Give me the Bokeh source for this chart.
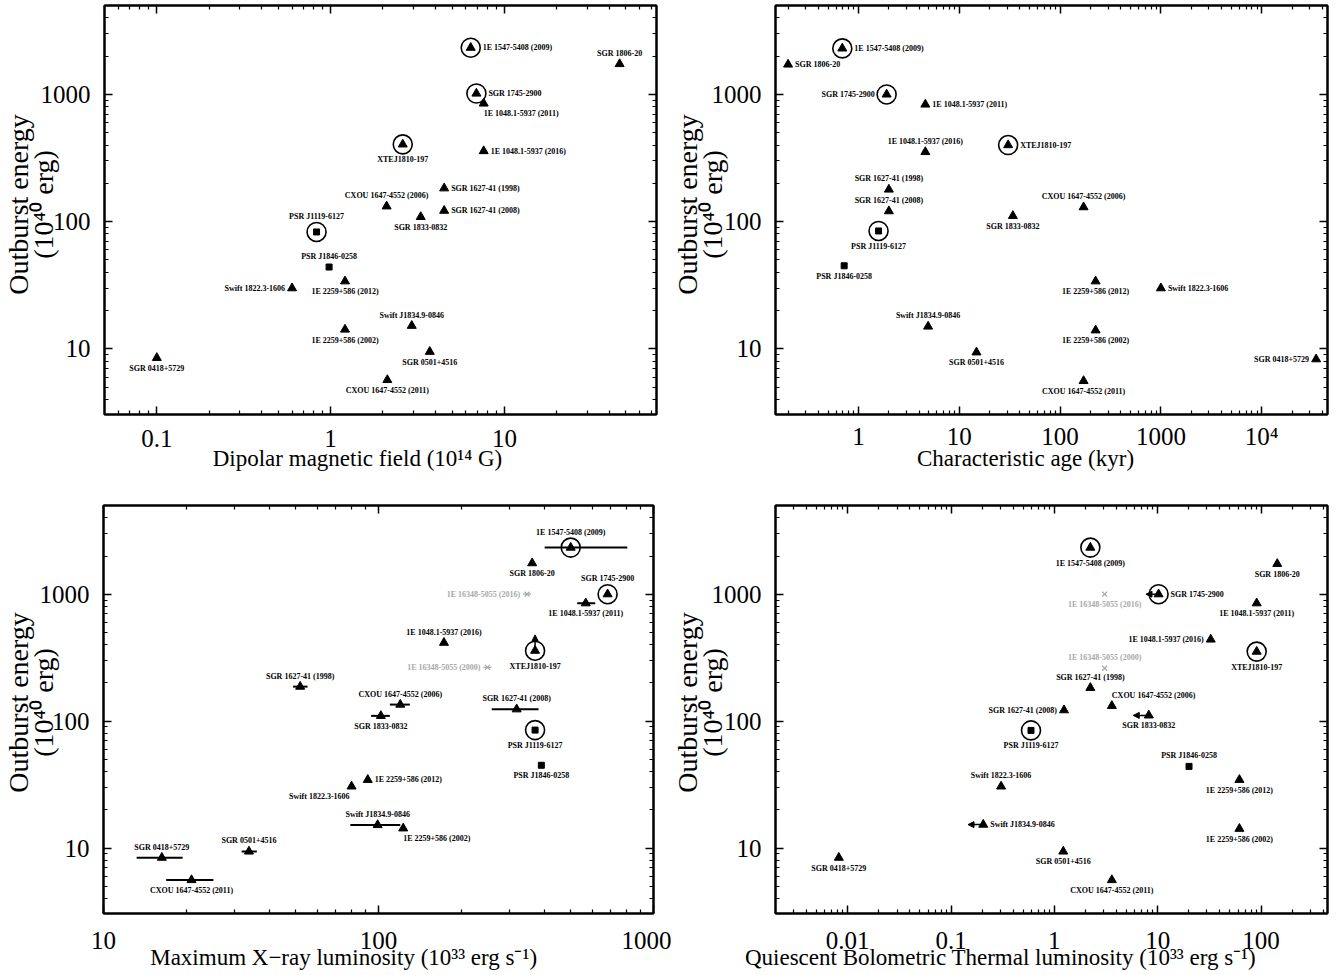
import math
from bokeh.plotting import figure
from bokeh.models import (LogAxis, FixedTicker, ColumnDataSource, Arrow, NormalHead,
                          Range1d, CustomJSTickFormatter, GridBox)
from bokeh.core.properties import value
from bokeh.embed import file_html
from bokeh.resources import INLINE

# ---------------- data ----------------
names = ["1E 1547-5408 (2009)", "SGR 1806-20", "SGR 1745-2900", "1E 1048.1-5937 (2011)",
         "XTEJ1810-197", "1E 1048.1-5937 (2016)", "SGR 1627-41 (1998)", "CXOU 1647-4552 (2006)",
         "SGR 1627-41 (2008)", "SGR 1833-0832", "PSR J1119-6127", "PSR J1846-0258",
         "1E 2259+586 (2012)", "Swift 1822.3-1606", "Swift J1834.9-0846", "1E 2259+586 (2002)",
         "SGR 0418+5729", "SGR 0501+4516", "CXOU 1647-4552 (2011)"]
# t = triangle, s = square, c* = circled
kinds = ["ct", "t", "ct", "t", "ct", "t", "t", "t", "t", "t", "cs", "s", "t", "t", "t", "t", "t", "t", "t"]

# Panel 1: dipolar magnetic field (1e14 G)
bfield = [6.4, 46, 6.9, 7.6, 2.6, 7.6, 4.5, 2.1, 4.5, 3.3, 0.83, 0.98, 1.21, 0.6, 2.93, 1.21, 0.1, 3.72, 2.12]
energy_b = [2330, 1735, 1017, 849, 405, 359, 183, 132, 122, 109, 83, 44, 34, 30, 15.2, 14.2, 8.5, 9.5, 5.7]

# Panel 2: characteristic age (kyr)
age = [0.69, 0.2, 1.9, 4.6, 30.5, 4.6, 2.0, 171, 2.0, 34, 1.58, 0.72, 225, 1000, 4.9, 225, 34700, 14.8, 171]
energy_age = [2300, 1720, 1000, 834, 400, 353, 179, 130, 121, 111, 84.5, 45, 34, 30, 15, 14, 8.3, 9.4, 5.6]

# Panel 3: maximum X-ray luminosity (1e33 erg/s)
lx_max = [500, 362, 681, 567, 371, 173, 51.9, 120, 318, 102, 371, 391, 91.4, 79.8, 99.3, 123, 16.3, 33.8, 20.9]
lx_lo = [402, None, None, 528, None, None, 48.9, 110, 258, 94, None, None, None, None, 79, None, 13.2, 31.8, 16.9]
lx_hi = [803, None, None, 614, None, None, 55.2, 130, 382, 110, None, None, None, None, 120, None, 19.4, 36.1, 25.1]
energy_lx = [2330, 1757, 1000, 849, 359, 415, 187, 135, 124, 110, 85, 44.9, 34.5, 30.6, 15.2, 14.3, 8.4, 9.4, 5.6]
xtej_lower_limit_top = 478
grey_names = ["1E 16348-5055 (2016)", "1E 16348-5055 (2000)"]
grey_lx = [347, 249]
grey_e_lx = [1000, 265]

# Panel 4: quiescent bolometric thermal luminosity (1e33 erg/s)
lbol = [2.23, 143.6, 10.2, 90.8, 90.8, 32.6, 2.23, 3.6, 1.24, 8.2, 0.594, 20.1, 61.8, 0.305, 0.205, 61.8, 0.0082, 1.22, 3.6]
energy_lbol = [2330, 1735, 1000, 849, 353, 440, 183, 132, 122, 111, 84.5, 44, 34.5, 30.6, 15.3, 14.2, 8.4, 9.4, 5.6]
lbol_upper_names = ["SGR 1745-2900", "SGR 1833-0832", "Swift J1834.9-0846"]
lbol_upper_arrow_end = [7.7, 5.8, 0.146]
grey_lbol = [3.07, 3.07]
grey_e_lbol = [1000, 261]

y_title = ["Outburst energy", "(10\u2074\u2070 erg)"]
x_titles = ["Dipolar magnetic field (10\u00b9\u2074 G)",
            "Characteristic age (kyr)",
            "Maximum X\u2212ray luminosity  (10\u00b3\u00b3 erg s\u207b\u00b9)",
            "Quiescent Bolometric Thermal luminosity (10\u00b3\u00b3 erg s\u207b\u00b9)"]

# ---------------- label placement (styling) ----------------
place1 = ["r", "a", "r", "br", "b", "r", "r", "a", "r", "b", "a", "a", "b", "l", "a", "b", "b", "b", "b"]
place2 = ["r", "r", "l", "r", "r", "a", "a", "a", "a", "b", "b", "b", "b", "r", "a", "b", "l", "b", "b"]
place3 = ["a", "b", "a", "b", "b", "a", "a", "a", "a", "b", "b", "b", "r", "bl", "a", "br", "a", "a", "b"]
place4 = ["b", "b", "r", "b", "b", "l", "a", "ar", "l", "b", "b", "a", "b", "a", "r", "b", "b", "b", "b"]
grey_place3 = ["l", "l"]
grey_place4 = ["b", "a"]

SERIF = "Liberation Serif"
YR = (3.05, 5000)


def no_align(fig):
    if "frame_align" in fig.properties():
        fig.frame_align = False


def offsets(code, circled):
    r = 11 if circled else 6
    if code == "r":
        return (r + 1, 0, "left", "middle")
    if code == "l":
        return (-(r + 1), 0, "right", "middle")
    if code == "a":
        return (0, -r, "center", "bottom")
    if code == "b":
        return (0, r, "center", "top")
    if code == "br":
        return (0, r, "left", "top")
    if code == "bl":
        return (-2, r, "right", "top")
    if code == "ar":
        return (0, -r, "left", "bottom")
    return (0, 0, "center", "middle")


def log_ticks(lo, hi):
    majors, minors = [], []
    for e in range(-4, 6):
        for m in range(1, 10):
            v = float(f"{m}e{e}")
            if lo * 0.9999 <= v <= hi * 1.0001:
                (majors if m == 1 else minors).append(v)
    return majors, minors


fmt_code = """
if (Math.abs(tick - 10000) < 1e-6) { return '10\\u2074'; }
return String(parseFloat(tick.toPrecision(6)));
"""
blank_code = "return '';"


def style_axis(ax, show_labels):
    ax.axis_line_width = 2
    ax.axis_line_color = "black"
    ax.major_tick_in = 8
    ax.major_tick_out = 0
    ax.minor_tick_in = 4
    ax.minor_tick_out = 0
    ax.major_tick_line_width = 1.5
    ax.minor_tick_line_width = 1.2
    ax.major_tick_line_color = "black"
    ax.minor_tick_line_color = "black"
    ax.major_label_text_font = SERIF
    ax.major_label_text_color = "black"
    if not show_labels:
        ax.formatter = CustomJSTickFormatter(code=blank_code)
        ax.major_label_text_font_size = "2px"
        ax.major_label_text_color = None
        ax.major_label_standoff = 0


def make_panel(xr, xs, ys, place, width, height, borders, xstand,
               xerr=None, grey=None, arrows=None):
    bl, br, bt, bb = borders
    p = figure(width=width, height=height, x_axis_type="log", y_axis_type="log",
               x_range=Range1d(*xr), y_range=Range1d(*YR),
               output_backend="svg", toolbar_location=None,
               min_border_left=bl, min_border_right=br, min_border_top=bt, min_border_bottom=bb)
    no_align(p)
    p.grid.visible = False
    p.outline_line_color = "black"
    p.outline_line_width = 2
    p.background_fill_color = "white"
    p.border_fill_color = "white"

    xmaj, xmin = log_ticks(*xr)
    ymaj, ymin = log_ticks(*YR)

    p.xaxis.ticker = FixedTicker(ticks=xmaj, minor_ticks=xmin)
    p.yaxis.ticker = FixedTicker(ticks=ymaj, minor_ticks=ymin)
    p.xaxis.formatter = CustomJSTickFormatter(code=fmt_code)
    p.yaxis.formatter = CustomJSTickFormatter(code=fmt_code)
    for ax in p.xaxis + p.yaxis:
        style_axis(ax, True)
    p.xaxis.major_label_text_font_size = "25px"
    p.yaxis.major_label_text_font_size = "25px"
    p.xaxis.major_label_standoff = xstand
    p.yaxis.major_label_standoff = 14

    top = LogAxis(ticker=FixedTicker(ticks=xmaj, minor_ticks=xmin))
    style_axis(top, False)
    p.add_layout(top, "above")
    right = LogAxis(ticker=FixedTicker(ticks=ymaj, minor_ticks=ymin))
    style_axis(right, False)
    p.add_layout(right, "right")

    # error bars
    if xerr is not None:
        lo, hi = xerr
        idx = [i for i in range(len(xs)) if lo[i] is not None]
        p.segment(x0=[lo[i] for i in idx], x1=[hi[i] for i in idx],
                  y0=[ys[i] for i in idx], y1=[ys[i] for i in idx],
                  line_color="black", line_width=2)

    # arrows (limits)
    if arrows is not None:
        ax_, ay_, ex_, ey_ = arrows
        src = ColumnDataSource(dict(x0=ax_, y0=ay_, x1=ex_, y1=ey_))
        p.add_layout(Arrow(end=NormalHead(size=6, fill_color="black", line_color="black"),
                           x_start="x0", y_start="y0", x_end="x1", y_end="y1",
                           line_width=1.5, line_color="black", source=src))

    tri = [i for i, k in enumerate(kinds) if k.endswith("t")]
    sq = [i for i, k in enumerate(kinds) if k.endswith("s")]
    circ = [i for i, k in enumerate(kinds) if k.startswith("c")]
    p.scatter([xs[i] for i in tri], [ys[i] for i in tri], marker="triangle", size=9,
              fill_color="black", line_color="black")
    p.scatter([xs[i] for i in sq], [ys[i] for i in sq], marker="square", size=6,
              fill_color="black", line_color="black")
    p.scatter([xs[i] for i in circ], [ys[i] for i in circ], marker="circle", size=19,
              fill_color=None, line_color="black", line_width=1.6)

    lab = dict(x=[], y=[], t=[], xo=[], yo=[], al=[], bl=[], c=[])
    for i, nm in enumerate(names):
        xo, yo, al, bs = offsets(place[i], kinds[i].startswith("c"))
        lab["x"].append(xs[i]); lab["y"].append(ys[i]); lab["t"].append(nm)
        lab["xo"].append(xo); lab["yo"].append(yo); lab["al"].append(al); lab["bl"].append(bs)
        lab["c"].append("black")

    if grey is not None:
        gx, gy, gplace, dash = grey
        p.scatter(gx, gy, marker="x", size=7, line_color="#a8a8a8", line_width=1.2)
        if dash:
            p.scatter(gx, gy, marker="dash", size=8, line_color="#a8a8a8", line_width=1.2)
        for i, nm in enumerate(grey_names):
            xo, yo, al, bs = offsets(gplace[i], False)
            lab["x"].append(gx[i]); lab["y"].append(gy[i]); lab["t"].append(nm)
            lab["xo"].append(xo); lab["yo"].append(yo); lab["al"].append(al); lab["bl"].append(bs)
            lab["c"].append("#a8a8a8")

    p.text(x="x", y="y", text="t", x_offset="xo", y_offset="yo", text_align="al",
           text_baseline="bl", text_color="c", text_font=value(SERIF),
           text_font_style="bold", text_font_size="8px", source=ColumnDataSource(lab))
    return p


def title_overlay(width, height, xtitle, xpos, ylines_x, ycenter):
    """Transparent figure laid over a panel, holding its axis titles (pixel coordinates)."""
    o = figure(width=width, height=height, x_range=Range1d(0, width), y_range=Range1d(height, 0),
               output_backend="svg", toolbar_location=None,
               x_axis_location=None, y_axis_location=None,
               min_border=0, min_border_left=0, min_border_right=0,
               min_border_top=0, min_border_bottom=0)
    no_align(o)
    o.grid.visible = False
    o.outline_line_color = None
    o.background_fill_color = None
    o.border_fill_color = None
    o.text(x=[xpos[0]], y=[xpos[1]], text=[xtitle], text_align="center", text_baseline="middle",
           text_font=value(SERIF), text_font_size="23px", text_color="black")
    o.text(x=list(ylines_x), y=[ycenter, ycenter], text=y_title, angle=math.pi / 2,
           text_align="center", text_baseline="middle",
           text_font=value(SERIF), text_font_size="28px", text_color="black")
    return o


p1 = make_panel((0.05, 75), bfield, energy_b, place1, 671, 500, (104, 15, 5, 86), 15)
o1 = title_overlay(671, 500, x_titles[0], (357, 458), (18, 43), 204)

p2 = make_panel((0.15, 45000), age, energy_age, place2, 665, 500, (104, 9, 5, 86), 8)
o2 = title_overlay(665, 500, x_titles[1], (354, 458), (16, 41), 204)

ix = names.index("XTEJ1810-197")
p3 = make_panel((10, 1000), lx_max, energy_lx, place3, 671, 475, (103, 18, 5, 62), 18,
                xerr=(lx_lo, lx_hi),
                grey=(grey_lx, grey_e_lx, grey_place3, True),
                arrows=([lx_max[ix]], [energy_lx[ix]], [lx_max[ix]], [xtej_lower_limit_top]))
o3 = title_overlay(671, 475, x_titles[2], (346, 457), (18, 43), 202)

ui = [names.index(n) for n in lbol_upper_names]
p4 = make_panel((0.002, 440), lbol, energy_lbol, place4, 665, 475, (104, 9, 5, 62), 18,
                grey=(grey_lbol, grey_e_lbol, grey_place4, False),
                arrows=([lbol[i] for i in ui], [energy_lbol[i] for i in ui],
                        lbol_upper_arrow_end, [energy_lbol[i] for i in ui]))
o4 = title_overlay(665, 475, x_titles[3], (329, 457), (16, 41), 202)

layout = GridBox(children=[(p1, 0, 0), (o1, 0, 0), (p2, 0, 1), (o2, 0, 1),
                           (p3, 1, 0), (o3, 1, 0), (p4, 1, 1), (o4, 1, 1)])
open("out.html", "w").write(file_html(layout, INLINE))
